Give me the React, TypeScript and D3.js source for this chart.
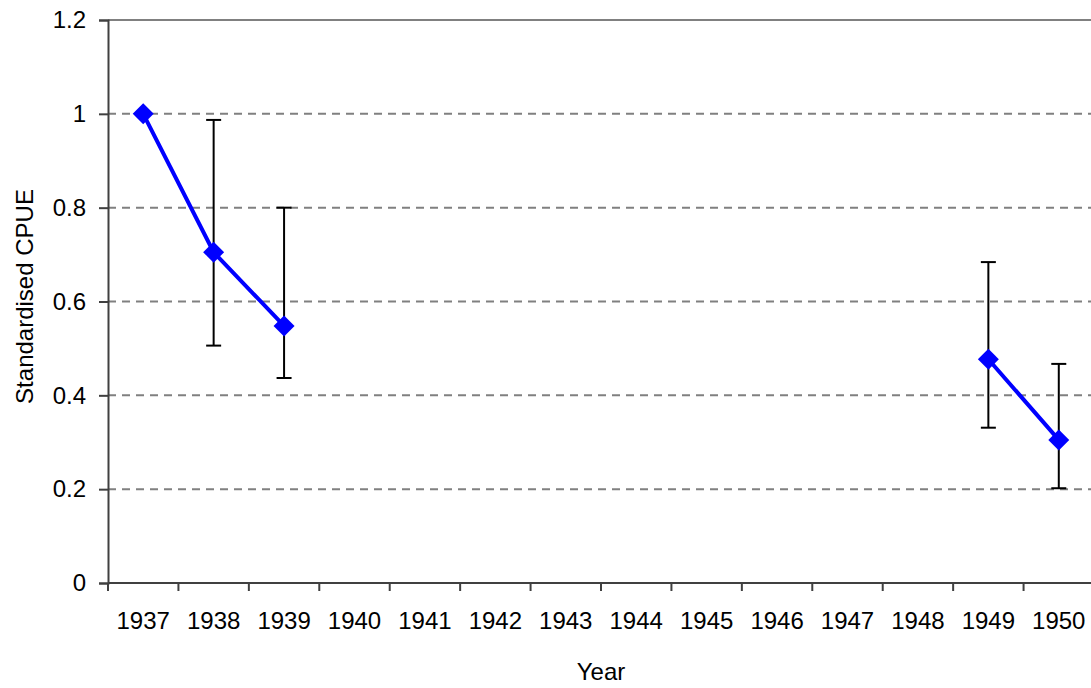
import { useEffect, useRef } from 'react';
import * as d3 from 'd3';

const years = ['1937', '1938', '1939', '1940', '1941', '1942', '1943', '1944', '1945', '1946', '1947', '1948', '1949', '1950'];
const cpue: (number | null)[] = [1.0, 0.705, 0.548, null, null, null, null, null, null, null, null, null, 0.477, 0.305];
const upper: (number | null)[] = [null, 0.987, 0.8, null, null, null, null, null, null, null, null, null, 0.684, 0.467];
const lower: (number | null)[] = [null, 0.506, 0.437, null, null, null, null, null, null, null, null, null, 0.331, 0.202];
const yTicks = [0, 0.2, 0.4, 0.6, 0.8, 1, 1.2];

const WIDTH = 1091;
const HEIGHT = 688;
const FONT = 'Liberation Sans, Arial, sans-serif';

export default function App() {
  const svgRef = useRef<SVGSVGElement>(null);

  useEffect(() => {
    if (!svgRef.current) return;
    const svg = d3.select(svgRef.current);
    svg.selectAll('*').remove();

    const left = 108;
    const right = 1094;
    const top = 20;
    const bottom = 583;

    const x = d3.scaleBand().domain(years).range([left, right]).padding(0);
    const y = d3.scaleLinear().domain([0, 1.2]).range([bottom, top]);
    const cx = (yr: string) => (x(yr) || 0) + x.bandwidth() / 2;

    // gridlines
    svg.append('g')
      .selectAll('line')
      .data(yTicks.filter((t) => t > 0 && t < 1.2))
      .join('line')
      .attr('x1', left)
      .attr('x2', right)
      .attr('y1', (d) => y(d))
      .attr('y2', (d) => y(d))
      .attr('stroke', '#808080')
      .attr('stroke-width', 2)
      .attr('stroke-dasharray', '8,6');

    // top border
    svg.append('line')
      .attr('x1', left)
      .attr('x2', right)
      .attr('y1', y(1.2))
      .attr('y2', y(1.2))
      .attr('stroke', '#808080')
      .attr('stroke-width', 2);

    // y axis
    const yAxis = svg.append('g')
      .attr('transform', `translate(${left},0)`)
      .call(d3.axisLeft(y).tickValues(yTicks).tickSize(9).tickPadding(13).tickFormat((d) => String(+d)));
    yAxis.select('.domain').attr('stroke', '#404040').attr('stroke-width', 2);
    yAxis.selectAll('.tick line').attr('stroke', '#404040').attr('stroke-width', 2);
    yAxis.selectAll('text')
      .attr('font-family', FONT)
      .attr('font-size', 24)
      .attr('fill', '#000');

    // x axis (ticks between categories)
    const xg = svg.append('g');
    xg.append('line')
      .attr('x1', left)
      .attr('x2', right)
      .attr('y1', bottom)
      .attr('y2', bottom)
      .attr('stroke', '#404040')
      .attr('stroke-width', 2);
    xg.selectAll('.xtick')
      .data(years)
      .join('line')
      .attr('class', 'xtick')
      .attr('x1', (d) => x(d) || 0)
      .attr('x2', (d) => x(d) || 0)
      .attr('y1', bottom)
      .attr('y2', bottom + 8)
      .attr('stroke', '#404040')
      .attr('stroke-width', 2);
    xg.selectAll('.xlabel')
      .data(years)
      .join('text')
      .attr('class', 'xlabel')
      .attr('x', (d) => cx(d))
      .attr('y', 629)
      .attr('text-anchor', 'middle')
      .attr('font-family', FONT)
      .attr('font-size', 24)
      .text((d) => d);

    // error bars
    const bars = years
      .map((yr, i) => ({ yr, hi: upper[i], lo: lower[i] }))
      .filter((d) => d.hi != null && d.lo != null);
    const eb = svg.append('g').attr('stroke', '#000').attr('stroke-width', 2);
    eb.selectAll('.ev')
      .data(bars)
      .join('line')
      .attr('x1', (d) => cx(d.yr))
      .attr('x2', (d) => cx(d.yr))
      .attr('y1', (d) => y(d.hi as number))
      .attr('y2', (d) => y(d.lo as number));
    eb.selectAll('.cap-hi')
      .data(bars)
      .join('line')
      .attr('x1', (d) => cx(d.yr) - 7.5)
      .attr('x2', (d) => cx(d.yr) + 7.5)
      .attr('y1', (d) => y(d.hi as number))
      .attr('y2', (d) => y(d.hi as number));
    eb.selectAll('.cap-lo')
      .data(bars)
      .join('line')
      .attr('x1', (d) => cx(d.yr) - 7.5)
      .attr('x2', (d) => cx(d.yr) + 7.5)
      .attr('y1', (d) => y(d.lo as number))
      .attr('y2', (d) => y(d.lo as number));

    // series line
    const pts = years.map((yr, i) => ({ yr, v: cpue[i] }));
    const line = d3.line<{ yr: string; v: number | null }>()
      .defined((d) => d.v != null)
      .x((d) => cx(d.yr))
      .y((d) => y(d.v as number));
    svg.append('path')
      .datum(pts)
      .attr('d', line)
      .attr('fill', 'none')
      .attr('stroke', '#0000FF')
      .attr('stroke-width', 4);

    // diamond markers
    const diamond = d3.symbol().type(d3.symbolSquare).size(220);
    svg.append('g')
      .selectAll('path')
      .data(pts.filter((d) => d.v != null))
      .join('path')
      .attr('d', diamond)
      .attr('transform', (d) => `translate(${cx(d.yr)},${y(d.v as number)}) rotate(45)`)
      .attr('fill', '#0000FF');

    // axis titles
    svg.append('text')
      .attr('x', (left + right) / 2)
      .attr('y', 680)
      .attr('text-anchor', 'middle')
      .attr('font-family', FONT)
      .attr('font-size', 24)
      .text('Year');
    svg.append('text')
      .attr('transform', `translate(33,${(top + bottom) / 2 - 5}) rotate(-90)`)
      .attr('text-anchor', 'middle')
      .attr('font-family', FONT)
      .attr('font-size', 24)
      .text('Standardised CPUE');
  }, []);

  return (
    <svg
      ref={svgRef}
      width={WIDTH}
      height={HEIGHT}
      style={{ position: 'absolute', left: 0, top: 0, background: '#fff' }}
    />
  );
}
